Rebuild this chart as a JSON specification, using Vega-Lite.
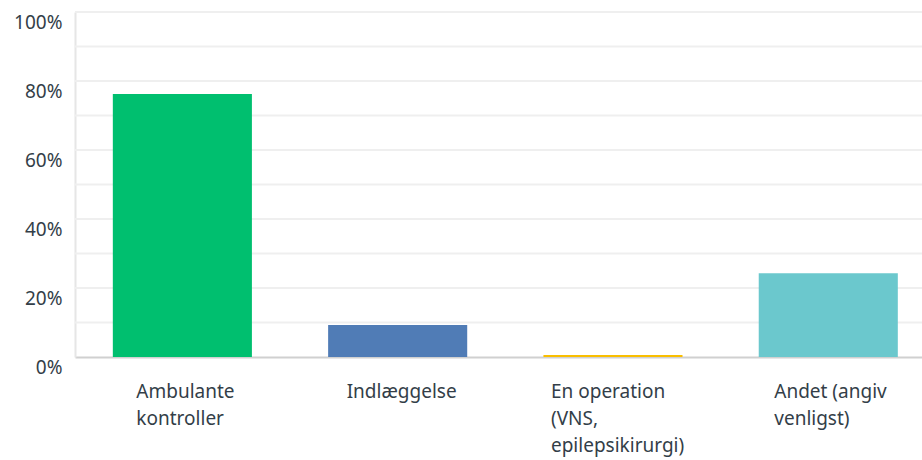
{
  "$schema": "https://vega.github.io/schema/vega-lite/v6.json",
  "autosize": {"type": "none"},
  "padding": {"left": 75, "top": 12, "right": 0, "bottom": 103},
  "width": 847,
  "height": 345,
  "background": "white",
  "data": {"values": [
    {"svar": "Ambulante kontroller", "andel": 0.762},
    {"svar": "Indlæggelse", "andel": 0.093},
    {"svar": "En operation (VNS, epilepsikirurgi)", "andel": 0.006},
    {"svar": "Andet (angiv venligst)", "andel": 0.243}
  ]},
  "mark": {"type": "bar"},
  "encoding": {
    "x": {
      "field": "svar", "type": "nominal", "sort": null,
      "scale": {"paddingInner": 0.354, "paddingOuter": 0.144, "align": 0.61},
      "axis": {
        "title": null, "labelAngle": 0, "ticks": false,
        "domainColor": "#d0d0d0", "domainWidth": 2,
        "labelAlign": "left", "labelBaseline": "top", "labelPadding": 25,
        "labelOffset": {"expr": "datum.value == 'Ambulante kontroller' ? -46 : datum.value == 'Indlæggelse' ? -51 : datum.value == 'Andet (angiv venligst)' ? -54 : -62"},
        "labelFont": "Noto Sans", "labelFontSize": 19, "labelColor": "#333e48", "labelLineHeight": 27,
        "labelExpr": "datum.value == 'Ambulante kontroller' ? ['Ambulante', 'kontroller'] : datum.value == 'En operation (VNS, epilepsikirurgi)' ? ['En operation', '(VNS,', 'epilepsikirurgi)'] : datum.value == 'Andet (angiv venligst)' ? ['Andet (angiv', 'venligst)'] : datum.value"
      }
    },
    "y": {
      "field": "andel", "type": "quantitative",
      "scale": {"domain": [0, 1], "nice": false},
      "axis": {
        "title": null, "format": "~%", "values": [0, 0.2, 0.4, 0.6, 0.8, 1.0],
        "ticks": false, "domainColor": "#e6e6e6", "domainWidth": 2,
        "grid": false,
        "labelFont": "Noto Sans", "labelFontSize": 19, "labelColor": "#333e48",
        "labelPadding": 13, "labelOffset": 10, "labelBaseline": "middle"
      }
    },
    "color": {
      "field": "svar", "type": "nominal", "sort": null, "legend": null,
      "scale": {
        "domain": ["Ambulante kontroller", "Indlæggelse", "En operation (VNS, epilepsikirurgi)", "Andet (angiv venligst)"],
        "range": ["#00bf6f", "#507cb6", "#f9be00", "#6bc8cd"]
      }
    }
  },
  "layer": [
    {
      "data": {"values": [
        {"v": 0.1}, {"v": 0.2}, {"v": 0.3}, {"v": 0.4}, {"v": 0.5},
        {"v": 0.6}, {"v": 0.7}, {"v": 0.8}, {"v": 0.9}, {"v": 1.0}
      ]},
      "mark": {"type": "rule", "color": "#efefef", "strokeWidth": 2},
      "encoding": {"y": {"field": "v", "type": "quantitative"}, "x": null, "color": null}
    },
    {"mark": {"type": "bar"}}
  ],
  "config": {"view": {"stroke": null}}
}
